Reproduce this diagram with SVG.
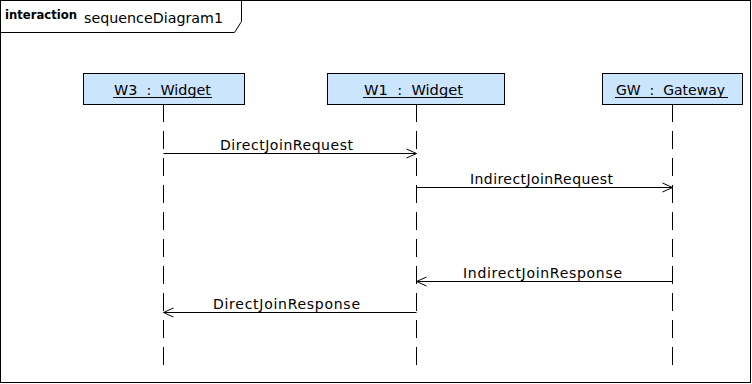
<svg xmlns="http://www.w3.org/2000/svg" width="752" height="384" viewBox="0 0 752 384">
  <style>
    .frame { fill: #ffffff; stroke: #000000; stroke-width: 1; }
    .box { fill: #cce5ff; stroke: #000000; stroke-width: 1; }
    .life { stroke: #000000; stroke-width: 1; stroke-dasharray: 18 9; fill: none; }
    .msg { stroke: #000000; stroke-width: 1; fill: none; }
    .uline { stroke: #000000; stroke-width: 1; }
    .label { font-family: "DejaVu Sans", "Liberation Sans", sans-serif; font-size: 14px; fill: #000000; }
    .kw { font-family: "DejaVu Sans", "Liberation Sans", sans-serif; font-size: 12px; font-weight: bold; fill: #000000; }
  </style>
  <defs>
    <marker id="open" markerUnits="userSpaceOnUse" markerWidth="12" markerHeight="12" viewBox="0 0 12 12" refX="11" refY="6" orient="auto">
      <polyline points="1,1.5 11,6 1,10.5" fill="none" stroke="#000000" stroke-width="1"/>
    </marker>
  </defs>

  <!-- interaction frame -->
  <g id="frame">
    <rect class="frame" x="0.5" y="0.5" width="750" height="382"/>
    <path class="msg" d="M0.5,32.5 H234.5 L241.5,21.5 V0.5"/>
    <text class="kw" x="5" y="19" textLength="72" lengthAdjust="spacingAndGlyphs">interaction</text>
    <text class="label" x="84" y="23" textLength="139" lengthAdjust="spacingAndGlyphs">sequenceDiagram1</text>
  </g>

  <!-- lifelines -->
  <g id="W3">
    <line class="life" x1="163.5" y1="104" x2="163.5" y2="366"/>
    <rect class="box" x="83.5" y="73.5" width="161" height="31"/>
    <text class="label" x="114" y="95" textLength="97" lengthAdjust="spacingAndGlyphs" xml:space="preserve">W3  :  Widget</text>
    <line class="uline" x1="113" y1="97.5" x2="212" y2="97.5"/>
  </g>
  <g id="W1">
    <line class="life" x1="416.5" y1="104" x2="416.5" y2="366"/>
    <rect class="box" x="327.5" y="73.5" width="177" height="31"/>
    <text class="label" x="364" y="95" textLength="99" lengthAdjust="spacingAndGlyphs" xml:space="preserve">W1  :  Widget</text>
    <line class="uline" x1="363" y1="97.5" x2="463" y2="97.5"/>
  </g>
  <g id="GW">
    <line class="life" x1="672.5" y1="104" x2="672.5" y2="366"/>
    <rect class="box" x="602.5" y="73.5" width="140" height="31"/>
    <text class="label" x="616" y="95" textLength="109" lengthAdjust="spacingAndGlyphs" xml:space="preserve">GW  :  Gateway</text>
    <line class="uline" x1="615" y1="97.5" x2="728" y2="97.5"/>
  </g>

  <!-- messages -->
  <g id="connectors">
    <line class="msg" x1="163.5" y1="153.5" x2="416.5" y2="153.5" marker-end="url(#open)"/>
    <text class="label" x="220" y="150" textLength="133" lengthAdjust="spacing">DirectJoinRequest</text>

    <line class="msg" x1="416.5" y1="187.5" x2="672.5" y2="187.5" marker-end="url(#open)"/>
    <text class="label" x="470" y="184" textLength="143" lengthAdjust="spacing">IndirectJoinRequest</text>

    <line class="msg" x1="672.5" y1="281.5" x2="416.5" y2="281.5" marker-end="url(#open)"/>
    <text class="label" x="463" y="278" textLength="159" lengthAdjust="spacing">IndirectJoinResponse</text>

    <line class="msg" x1="416.5" y1="312.5" x2="163.5" y2="312.5" marker-end="url(#open)"/>
    <text class="label" x="213" y="309" textLength="147" lengthAdjust="spacing">DirectJoinResponse</text>
  </g>
</svg>
